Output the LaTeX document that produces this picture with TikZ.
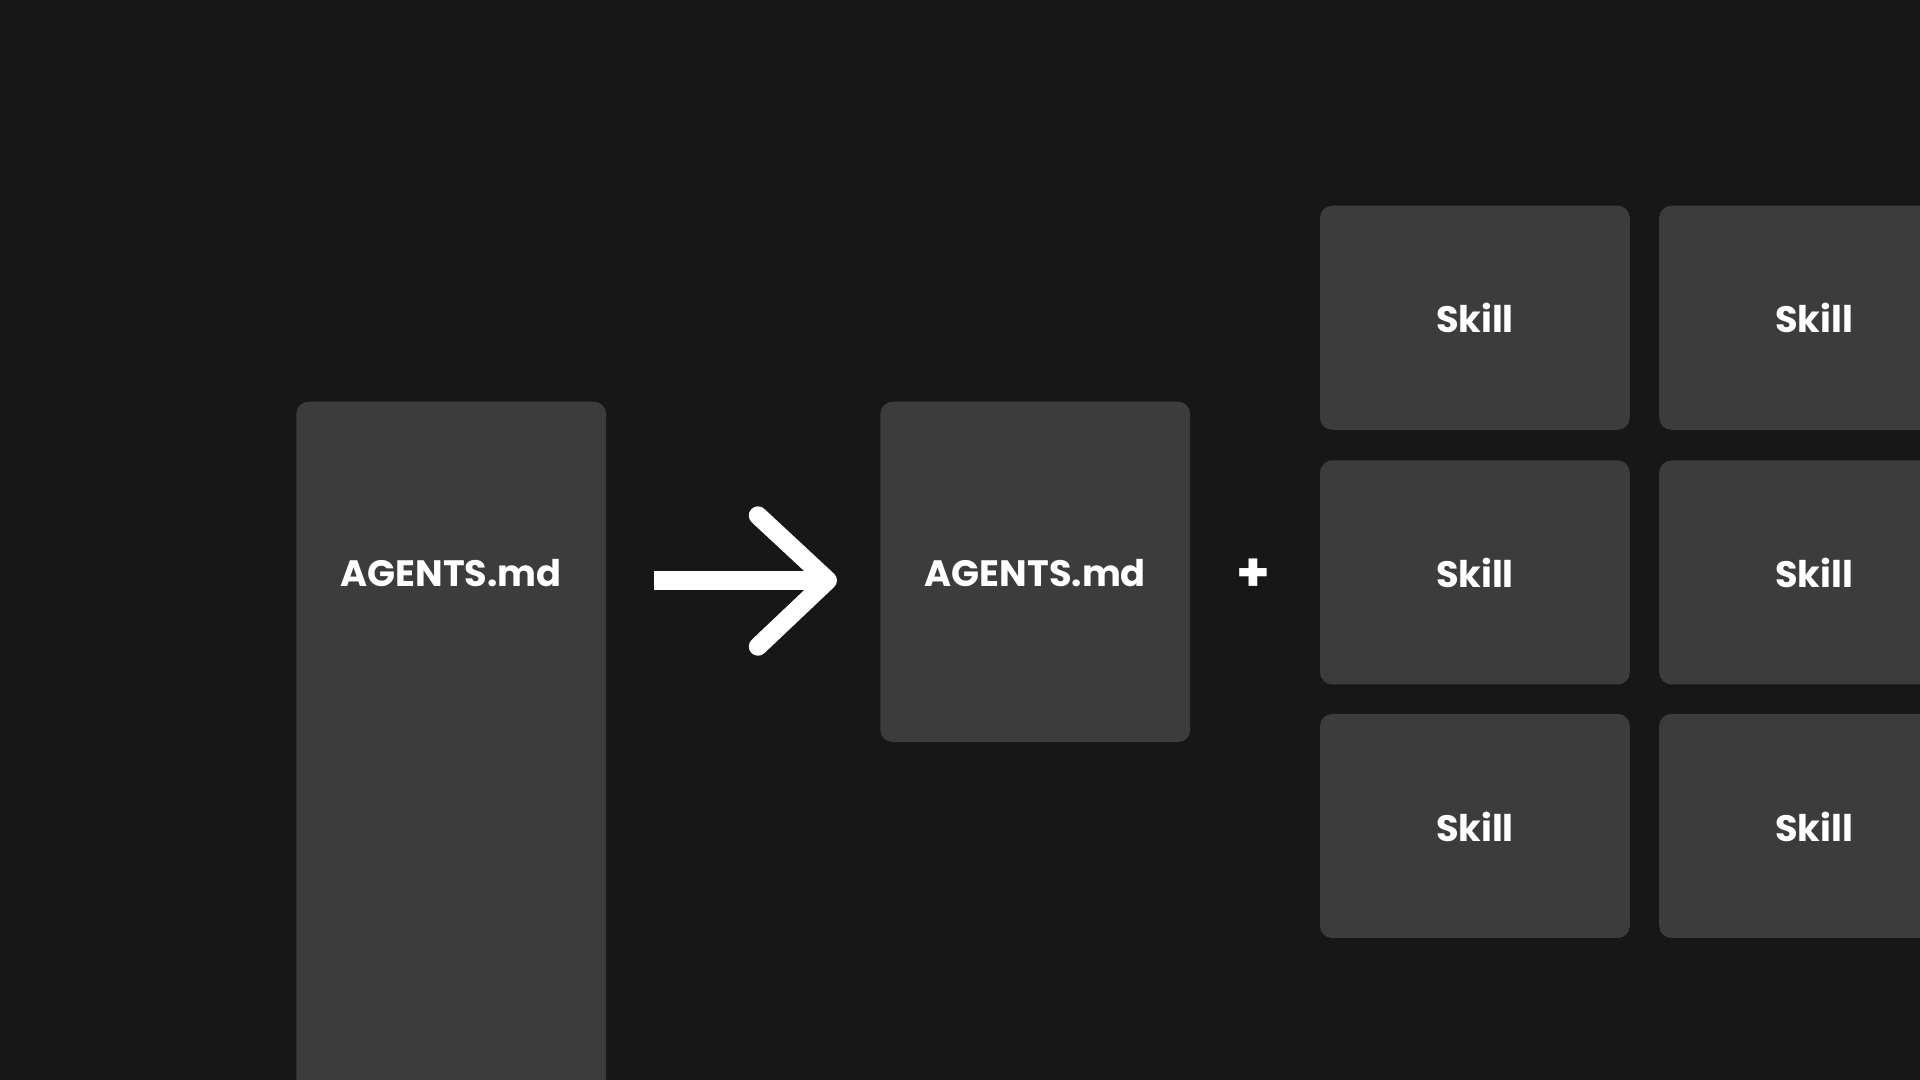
\documentclass[tikz,border=0pt]{standalone}
\usepackage{fontspec}
\setmainfont{Poppins}[BoldFont={* Bold}]
\definecolor{bg}{HTML}{171717}
\definecolor{box}{HTML}{3C3C3C}
\begin{document}
\begin{tikzpicture}[x=1pt,y=-1pt,
  card/.style={fill=box,rounded corners=10pt,draw=none},
  lbl/.style={text=white,font=\fontsize{30}{34}\selectfont\bfseries,anchor=center}]
\fill[bg] (0,0) rectangle (1568,882);
\clip (0,0) rectangle (1568,882);
\fill[card] (242,328) rectangle (495,920);
\node[lbl] (a1) at (368.5,468) {AGENTS.md};
\coordinate (s) at (534,474);
\coordinate (t) at (672,474);
\coordinate (u) at (619,421);
\coordinate (d) at (619,528);
\draw[white,line width=16pt] (s) -- (t);
\draw[white,line width=15pt,line cap=round,line join=round] (u) -- (676,474) -- (d);
\fill[card] (719,328) rectangle (972,606);
\node[lbl] (a2) at (845.5,468) {AGENTS.md};
\node[text=white,font=\fontsize{44}{44}\selectfont\bfseries] (p) at (1024,470) {+};
\foreach \c/\cx in {1/1078,2/1355}{
  \foreach \r/\ry in {1/168,2/376,3/583}{
    \fill[card] (\cx,\ry) rectangle ++(253,183);
    \node[lbl] (s\c\r) at (\cx+126.5,\ry+92) {Skill};
  }
}
\end{tikzpicture}
\end{document}
